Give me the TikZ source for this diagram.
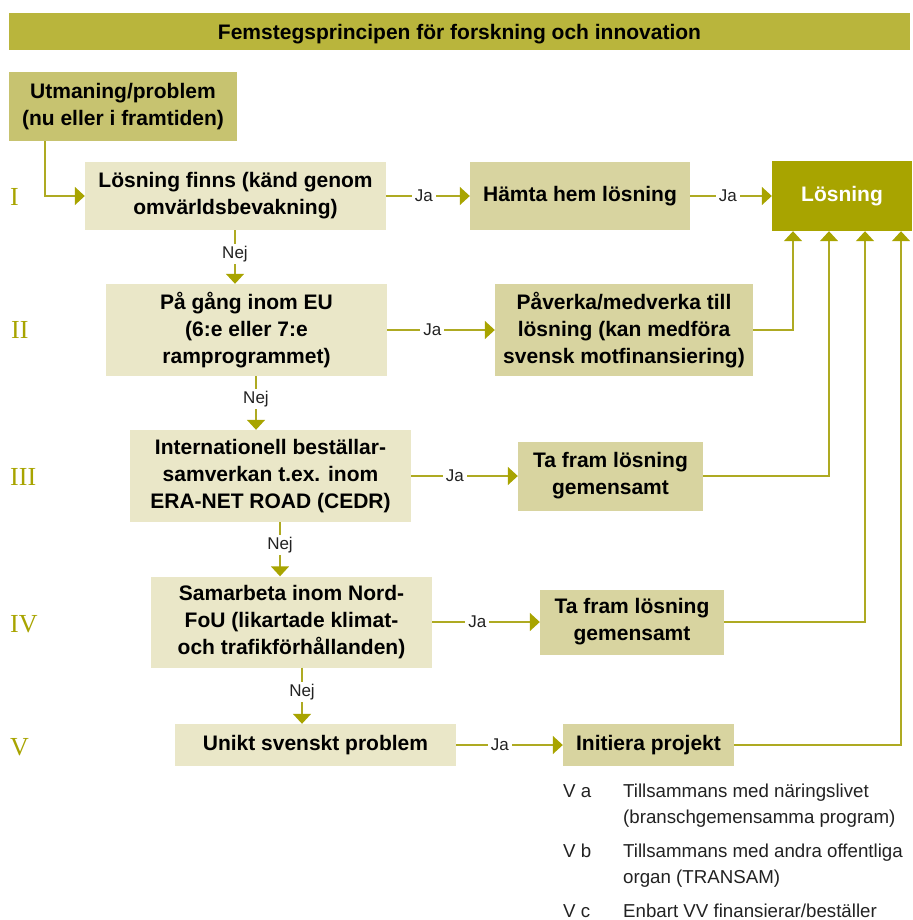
\documentclass[tikz,border=0pt]{standalone}
\usepackage{fontspec}
\newfontfamily\hv{Liberation Sans}
\newfontfamily\rmnum{Liberation Serif}
\usetikzlibrary{arrows.meta,calc}
\definecolor{vvTitle}{HTML}{B9B53C}
\definecolor{vvUtm}{HTML}{C7C370}
\definecolor{vvPale}{HTML}{EAE7C8}
\definecolor{vvMid}{HTML}{D8D4A0}
\definecolor{vvDark}{HTML}{A8A400}
\definecolor{vvLine}{HTML}{AEAA22}
\definecolor{vvText}{HTML}{222222}
\tikzset{
  box/.style={inner sep=0pt, align=center, text=black,
    font=\hv\bfseries\fontsize{21}{27}\selectfont},
  pale/.style={box, fill=vvPale},
  mid/.style={box, fill=vvMid},
  conn/.style={draw=vvLine, line width=1.5pt,
    -{Triangle[width=18pt,length=10pt,fill=vvDark,color=vvDark]}},
  lbl/.style={fill=white, inner xsep=3pt, inner ysep=2pt, text=vvText,
    font=\hv\fontsize{17}{17}\selectfont},
  rom/.style={anchor=base west, inner sep=0pt, text=vvDark,
    font=\rmnum\fontsize{26}{26}\selectfont},
  listtxt/.style={anchor=base west, inner sep=0pt, text=vvText,
    font=\hv\fontsize{18.7}{26}\selectfont}
}
\begin{document}
\begin{tikzpicture}[x=1pt,y=-1pt]
\fill[white] (0,0) rectangle (912,920);
\useasboundingbox (0,0) rectangle (912,920);

% title
\fill[vvTitle] (9,13) rectangle (910,50);
\node[box, inner sep=0pt] (title) at (459.5,34)
  {Femstegsprincipen för forskning och innovation};

% boxes
\node[box, fill=vvUtm, minimum width=228pt, minimum height=69pt] (utm) at (123,106.5)
  {Utmaning/problem\\(nu eller i framtiden)};
\node[pale, minimum width=301pt, minimum height=68pt] (b1) at (235.5,196)
  {Lösning finns (känd genom\\omvärldsbevakning)};
\node[mid, minimum width=220pt, minimum height=68pt] (hamta) at (580,196)
  {Hämta hem lösning};
\node[box, fill=vvDark, text=white, minimum width=140pt, minimum height=70pt] (losn) at (842,196)
  {Lösning};

\node[pale, minimum width=281pt, minimum height=92pt] (b2) at (246.5,330)
  {På gång inom EU\\(6:e eller 7:e\\ramprogrammet)};
\node[mid, minimum width=258pt, minimum height=92pt] (pav) at (624,330)
  {Påverka/medverka till\\lösning (kan medföra\\svensk motfinansiering)};

\node[pale, minimum width=281pt, minimum height=92pt] (b3) at (270.5,476)
  {Internationell beställar-\\samverkan t.ex. inom\\ERA-NET ROAD (CEDR)};
\node[mid, minimum width=185pt, minimum height=69pt] (tf1) at (610.5,476)
  {Ta fram lösning\\gemensamt};

\node[pale, minimum width=281pt, minimum height=91pt] (b4) at (291.5,622)
  {Samarbeta inom Nord-\\FoU (likartade klimat-\\och trafikförhållanden)};
\node[mid, minimum width=184pt, minimum height=65pt] (tf2) at (632,622)
  {Ta fram lösning\\gemensamt};

\node[pale, minimum width=281pt, minimum height=42pt] (b5) at (315.5,745)
  {Unikt svenskt problem};
\node[mid, minimum width=171pt, minimum height=42pt] (init) at (648.5,745)
  {Initiera projekt};

% roman numerals
\node[rom] (r1) at (10,205) {I};
\node[rom] (r2) at (11,338) {II};
\node[rom] (r3) at (10,485) {III};
\node[rom] (r4) at (10,632) {IV};
\node[rom] (r5) at (10,755) {V};

% helper x-positions
\coordinate (x0) at (45,0);
\coordinate (x1) at (235,0);
\coordinate (x2) at (256,0);
\coordinate (x3) at (280,0);
\coordinate (x4) at (302,0);
\coordinate (u1) at (793,0);
\coordinate (u2) at (829,0);
\coordinate (u3) at (865,0);
\coordinate (u4) at (901,0);

% connectors
\draw[conn] (utm.south -| x0) |- (b1.west);
\draw[conn] (b1) -- node[lbl, pos=0.45] {Ja} (hamta);
\draw[conn] (hamta) -- node[lbl, pos=0.46] {Ja} (losn);

\draw[conn] (b1.south -| x1) -- node[lbl, pos=0.44] {Nej} (b2.north -| x1);
\draw[conn] (b2) -- node[lbl, pos=0.42] {Ja} (pav);
\draw[conn] (pav.east) -| (losn.south -| u1);

\draw[conn] (b2.south -| x2) -- node[lbl, pos=0.43] {Nej} (b3.north -| x2);
\draw[conn] (b3) -- node[lbl, pos=0.41] {Ja} (tf1);
\draw[conn] (tf1.east) -| (losn.south -| u2);

\draw[conn] (b3.south -| x3) -- node[lbl, pos=0.42] {Nej} (b4.north -| x3);
\draw[conn] (b4) -- node[lbl, pos=0.42] {Ja} (tf2);
\draw[conn] (tf2.east) -| (losn.south -| u3);

\draw[conn] (b4.south -| x4) -- node[lbl, pos=0.44] {Nej} (b5.north -| x4);
\draw[conn] (b5) -- node[lbl, pos=0.41] {Ja} (init);
\draw[conn] (init.east) -| (losn.south -| u4);

% list under Initiera projekt
\node[listtxt] (va) at (563,797) {V a};
\node[listtxt] (vat1) at (623,797) {Tillsammans med näringslivet};
\node[listtxt] (vat2) at (623,823) {(branschgemensamma program)};
\node[listtxt] (vb) at (563,857) {V b};
\node[listtxt] (vbt1) at (623,857) {Tillsammans med andra offentliga};
\node[listtxt] (vbt2) at (623,883) {organ (TRANSAM)};
\node[listtxt] (vc) at (563,917) {V c};
\node[listtxt] (vct1) at (623,917) {Enbart VV finansierar/beställer};
\end{tikzpicture}
\end{document}
